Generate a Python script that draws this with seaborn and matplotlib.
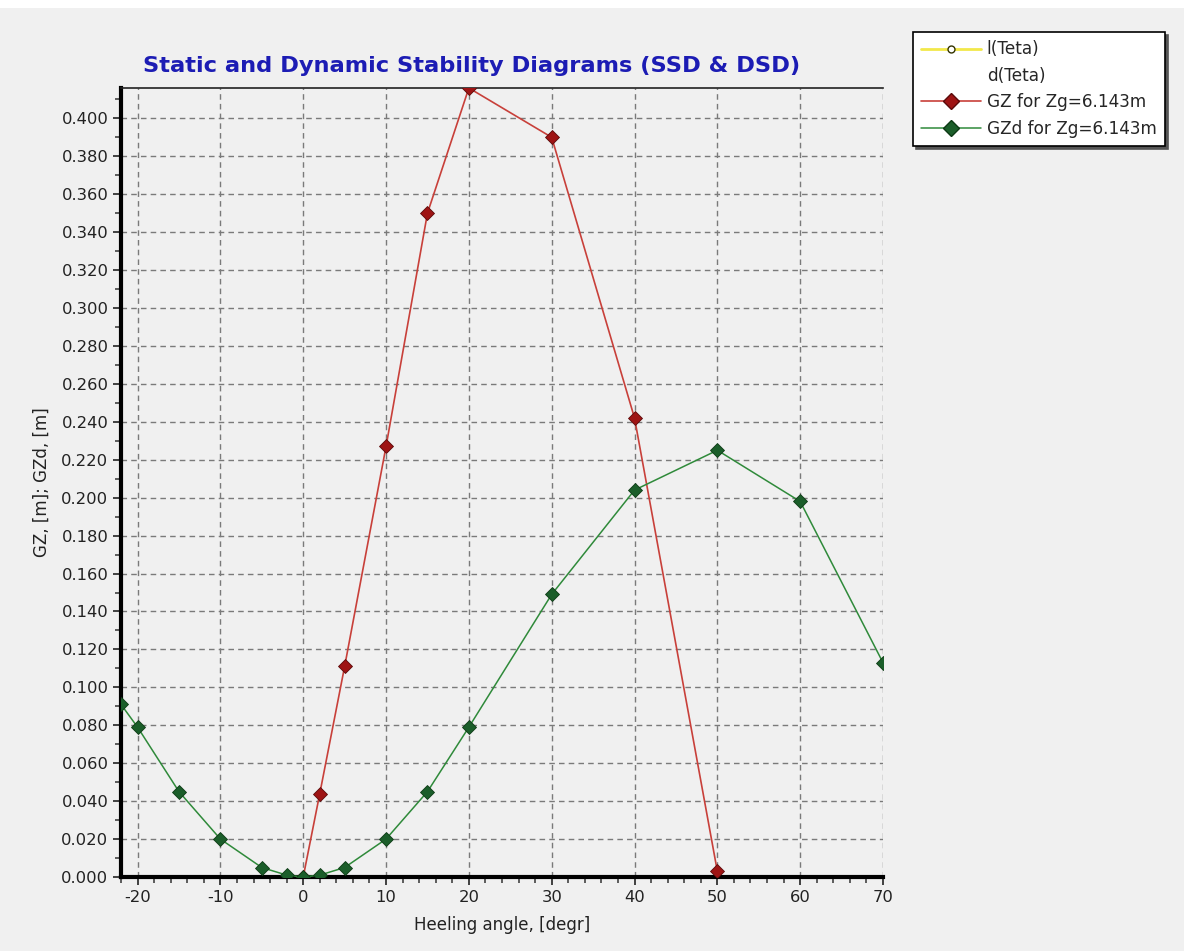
import numpy as np
import pandas as pd
import matplotlib
matplotlib.use("Agg")
import matplotlib.pyplot as plt
from matplotlib.lines import Line2D
from matplotlib.patches import Rectangle
from matplotlib.ticker import MultipleLocator, FormatStrFormatter
import seaborn as sns

# ---- data ----
gz_angle = [0, 2, 5, 10, 15, 20, 30, 40, 50]
gz_value = [0.000, 0.044, 0.111, 0.227, 0.350, 0.416, 0.390, 0.242, 0.003]

gzd_angle = [-22, -20, -15, -10, -5, -2, 0, 2, 5, 10, 15, 20, 30, 40, 50, 60, 70]
gzd_value = [0.091, 0.079, 0.045, 0.020, 0.005, 0.001, 0.000, 0.001, 0.005, 0.020,
             0.045, 0.079, 0.149, 0.204, 0.225, 0.198, 0.113]

title = "Static and Dynamic Stability Diagrams (SSD & DSD)"
xlabel = "Heeling angle, [degr]"
ylabel = "GZ, [m]; GZd, [m]"
legend_labels = ["l(Teta)", "d(Teta)", "GZ for Zg=6.143m", "GZd for Zg=6.143m"]

sns.set_style("white")
plt.rcParams['font.family'] = ['DejaVu Sans']
plt.rcParams['axes.unicode_minus'] = False

BG = "#f0f0f0"
fig = plt.figure(figsize=(11.84, 9.51), dpi=100, facecolor=BG)
fig.patches.append(Rectangle((0, 1 - 8/951), 1, 8/951, transform=fig.transFigure,
                             facecolor="white", edgecolor="none", zorder=0))
ax = fig.add_axes([121/1184, 1-877/951, (883-121)/1184, (877-88)/951])
ax.set_facecolor(BG)

df_gz = pd.DataFrame({"angle": gz_angle, "value": gz_value})
df_gzd = pd.DataFrame({"angle": gzd_angle, "value": gzd_value})

red_line = "#c8403a"
red_mark = "#9e1414"
green_line = "#2f8a3a"
green_mark = "#1b5e2a"

sns.lineplot(data=df_gz, x="angle", y="value", ax=ax, color=red_line, lw=1.2,
             marker="D", markersize=7, markerfacecolor=red_mark,
             markeredgecolor="#5a0a0a", markeredgewidth=0.6, zorder=4,
             estimator=None, sort=False)
sns.lineplot(data=df_gzd, x="angle", y="value", ax=ax, color=green_line, lw=1.1,
             marker="D", markersize=7, markerfacecolor=green_mark,
             markeredgecolor="#0d3a15", markeredgewidth=0.6, zorder=5,
             estimator=None, sort=False)

ax.set_xlim(-22, 70)
ax.set_ylim(0, 0.416)
ax.xaxis.set_major_locator(MultipleLocator(10))
ax.xaxis.set_minor_locator(MultipleLocator(2))
ax.yaxis.set_major_locator(MultipleLocator(0.02))
ax.yaxis.set_minor_locator(MultipleLocator(0.01))
ax.yaxis.set_major_formatter(FormatStrFormatter("%.3f"))
ax.set_ylim(0, 0.416)

ax.tick_params(axis="both", which="both", bottom=True, left=True, top=False, right=False)
ax.tick_params(axis="both", which="major", direction="out", length=6, width=1.3,
               color="#333333", labelsize=11.8, labelcolor="#222222", pad=3)
ax.tick_params(axis="both", which="minor", direction="out", length=4, width=1.1,
               color="#333333")

ax.grid(True, which="major", linestyle=(0, (4, 3)), color="#7a7a7a", lw=1.0)

for s in ["left", "bottom"]:
    ax.spines[s].set_linewidth(3)
    ax.spines[s].set_color("black")
ax.spines["top"].set_linewidth(1.2)
ax.spines["top"].set_color("#222222")
ax.spines["right"].set_visible(False)

ax.set_xlabel(xlabel, fontsize=12, color="#222222", labelpad=8)
ax.set_ylabel(ylabel, fontsize=12, color="#222222", labelpad=8)

fig.text(472/1184, 1-66/951, title, ha="center", va="center", fontsize=16.2,
         fontweight="bold", color="#1c1cb4")

handles = [
    Line2D([], [], color="#f2e84a", lw=2, marker="o", markersize=5,
           markerfacecolor="white", markeredgecolor="#333300"),
    Line2D([], [], color="white", lw=0, alpha=0),
    Line2D([], [], color=red_line, lw=1.2, marker="D", markersize=8,
           markerfacecolor=red_mark, markeredgecolor="#5a0a0a"),
    Line2D([], [], color=green_line, lw=1.1, marker="D", markersize=8,
           markerfacecolor=green_mark, markeredgecolor="#0d3a15"),
]
leg = fig.legend(handles, legend_labels, loc="upper left",
                 bbox_to_anchor=(913/1184, 1-32/951), frameon=True, fancybox=False,
                 shadow={"color": "#555555", "alpha": 1.0}, fontsize=12.2,
                 handlelength=3.5, handletextpad=0.35,
                 borderpad=0.5, labelspacing=0.5, borderaxespad=0)
leg.get_frame().set_edgecolor("black")
leg.get_frame().set_linewidth(1.2)
leg.get_frame().set_facecolor("white")

fig.savefig("out.png", dpi=100, facecolor=BG)
